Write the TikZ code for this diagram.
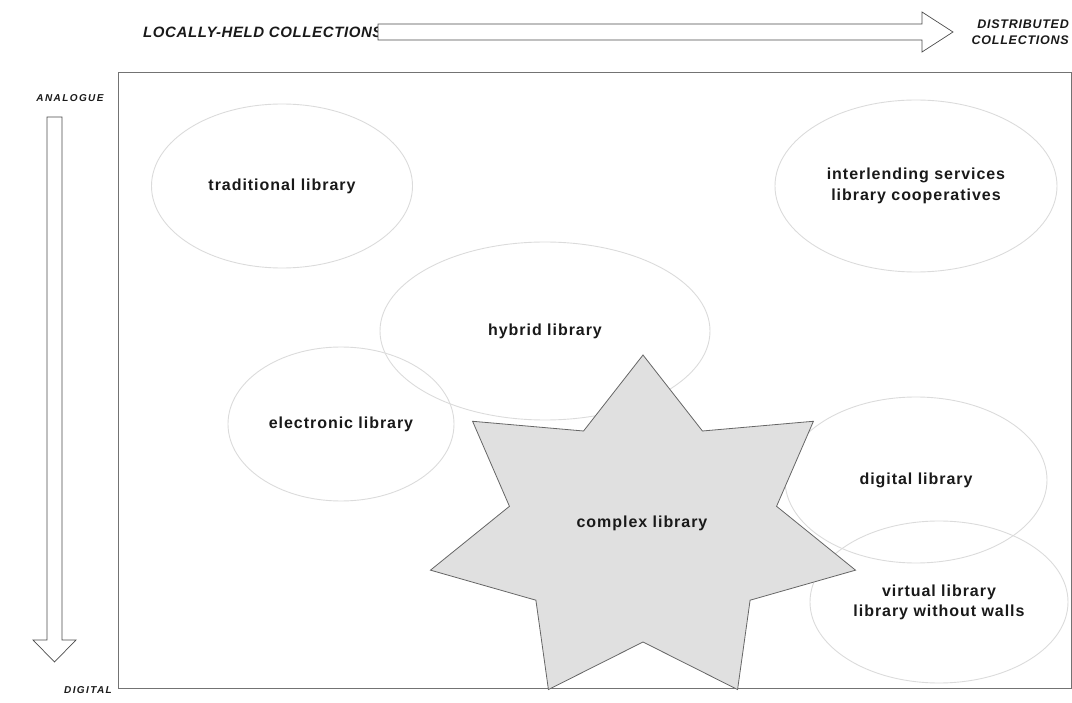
\documentclass[tikz,border=0pt]{standalone}
\usepackage{fontspec}
\setmainfont{Liberation Sans}
\usetikzlibrary{shapes.geometric}

\begin{document}
\begin{tikzpicture}[x=1pt, y=-1pt]
		\tikzstyle{libnode} = [draw = black!14, line width = 0.9pt, shape = ellipse, inner sep = 0pt, align = center, text = black!90, font = \fontsize{16}{21}\selectfont\bfseries\addfontfeatures{LetterSpace=6}]
		\tikzstyle{axislabel} = [inner sep = 0pt, align = right, text = black!90, font = \fontsize{12.5}{16}\selectfont\bfseries\itshape\addfontfeatures{LetterSpace=6}]
		\tikzstyle{hollowarrow} = [draw = black!70, fill = white, line width = 0.7pt, line join = miter]
		\useasboundingbox (0, 0) rectangle (1072, 703);

	% Ejes
		\node[axislabel, font = \fontsize{15}{16}\selectfont\bfseries\itshape\addfontfeatures{LetterSpace=4}, anchor = west] (local) at (143, 32) {LOCALLY-HELD COLLECTIONS};
		\node[axislabel, anchor = east] (distrib) at (1069, 32) {DISTRIBUTED\\COLLECTIONS};
		\node[axislabel, font = \fontsize{10}{12}\selectfont\bfseries\itshape\addfontfeatures{LetterSpace=14}] (analogue) at (70, 98) {ANALOGUE};
		\node[axislabel, font = \fontsize{10}{12}\selectfont\bfseries\itshape\addfontfeatures{LetterSpace=14}] (digital) at (88, 690) {DIGITAL};

		\draw[hollowarrow] (378, 24) -- (922, 24) -- (922, 12) -- (953, 32) -- (922, 52) -- (922, 40) -- (378, 40) -- cycle;
		\draw[hollowarrow] (47, 117) -- (62, 117) -- (62, 640) -- (76, 640) -- (54.5, 662) -- (33, 640) -- (47, 640) -- cycle;

		\draw[black!55, line width = 0.9pt] (118, 72) rectangle (1071, 688);

	% Bibliotecas
		\node[libnode, minimum width = 261pt, minimum height = 164pt] (trad) at (282, 186) {traditional library};
		\node[libnode, minimum width = 282pt, minimum height = 172pt] (inter) at (916, 186) {interlending services\\library cooperatives};
		\node[libnode, minimum width = 330pt, minimum height = 178pt] (hybrid) at (545, 331) {hybrid library};
		\node[libnode, minimum width = 226pt, minimum height = 154pt] (elec) at (341, 424) {electronic library};
		\node[libnode, minimum width = 262pt, minimum height = 166pt] (dig) at (916, 480) {digital library};
		\node[libnode, minimum width = 258pt, minimum height = 162pt, font = \fontsize{16}{20}\selectfont\bfseries\addfontfeatures{LetterSpace=6}] (virt) at (939, 602) {virtual library\\library without walls};

		\draw[fill = black!12, draw = black!60, line width = 0.8pt, line join = miter]
			plot[samples at = {0,...,13}, variable = \k]
			({643 + (mod(\k,2) == 0 ? 218 : 137)*cos(90 + \k*180/7)}, {531 - (mod(\k,2) == 0 ? 176 : 111)*sin(90 + \k*180/7)}) -- cycle;
		\node[libnode, draw = none] (complex) at (642, 523) {complex library};

	\end{tikzpicture}
\end{document}
